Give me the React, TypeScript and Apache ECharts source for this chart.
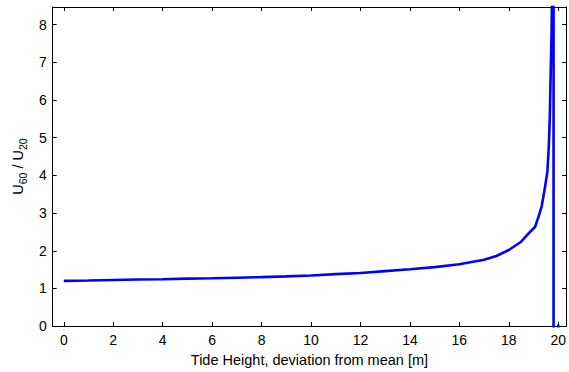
import React, { useEffect, useRef } from "react";
import * as echarts from "echarts";

// Tide height deviation from mean [m]
const tideHeights: number[] = [
  0, 1, 2, 3, 4, 5, 6, 7, 8, 9, 10, 11, 12, 13, 14, 15, 16, 17, 17.5, 18,
  18.5, 18.8, 19.06, 19.2, 19.33, 19.46, 19.56, 19.62, 19.66, 19.7, 19.73,
  19.76, 19.81, 19.81, 20,
];
// Ratio U60 / U20
const ratios: number[] = [
  1.2, 1.21, 1.225, 1.235, 1.245, 1.26, 1.27, 1.285, 1.3, 1.32, 1.345, 1.38,
  1.41, 1.46, 1.51, 1.565, 1.64, 1.76, 1.86, 2.02, 2.24, 2.46, 2.63, 2.9,
  3.18, 3.67, 4.1, 4.8, 5.6, 6.9, 7.8, 9.5, 60, -60, 0.04,
];
const xTicks: number[] = [0, 2, 4, 6, 8, 10, 12, 14, 16, 18, 20];
const yTicks: number[] = [0, 1, 2, 3, 4, 5, 6, 7, 8];

const X_MIN = -0.45;
const X_MAX = 20.32;
const Y_MIN = 0;
const Y_MAX = 8.47;

const FONT = "Arial, 'Liberation Sans', Helvetica, sans-serif";

export default function App() {
  const ref = useRef<HTMLDivElement>(null);

  useEffect(() => {
    if (!ref.current) return;
    const chart = echarts.init(ref.current, undefined, { renderer: "svg" });
    const points = tideHeights.map((x, i) => [x, ratios[i]]);

    const axisLine = { show: true, onZero: false, lineStyle: { color: "#000", width: 1 } };
    const tick = (vals: number[]) => ({
      show: true,
      inside: true,
      length: 4,
      lineStyle: { color: "#000", width: 1 },
      customValues: vals,
    });

    chart.setOption({
      animation: false,
      backgroundColor: "#fff",
      textStyle: { fontFamily: FONT },
      grid: { left: 50, right: 2, top: 7, bottom: 43, containLabel: false },
      xAxis: [
        {
          type: "value",
          min: X_MIN,
          max: X_MAX,
          position: "bottom",
          axisLine,
          axisTick: tick(xTicks),
          axisLabel: {
            show: true,
            customValues: xTicks,
            color: "#000",
            fontSize: 14,
            fontFamily: FONT,
            margin: 7,
          },
          splitLine: { show: false },
          name: "Tide Height, deviation from mean [m]",
          nameLocation: "middle",
          nameGap: 25,
          nameTextStyle: { color: "#000", fontSize: 14.5, fontFamily: FONT },
        },
        {
          type: "value",
          min: X_MIN,
          max: X_MAX,
          position: "top",
          axisLine,
          axisTick: tick(xTicks),
          axisLabel: { show: false },
          splitLine: { show: false },
        },
      ],
      yAxis: [
        {
          type: "value",
          min: Y_MIN,
          max: Y_MAX,
          position: "left",
          axisLine,
          axisTick: tick(yTicks),
          axisLabel: {
            show: true,
            customValues: yTicks,
            color: "#000",
            fontSize: 14,
            fontFamily: FONT,
            margin: 6,
          },
          splitLine: { show: false },
          name: "{n|U}{s|60}{n| / U}{s|20}",
          nameLocation: "middle",
          nameRotate: 90,
          nameGap: 24,
          nameTextStyle: {
            color: "#000",
            fontFamily: FONT,
            rich: {
              n: { fontSize: 14.5, color: "#000", fontFamily: FONT, lineHeight: 20, verticalAlign: "middle" },
              s: { fontSize: 10.5, color: "#000", fontFamily: FONT, lineHeight: 20, verticalAlign: "bottom", padding: [9, 0, 0, 0] },
            },
          },
        },
        {
          type: "value",
          min: Y_MIN,
          max: Y_MAX,
          position: "right",
          axisLine,
          axisTick: tick(yTicks),
          axisLabel: { show: false },
          splitLine: { show: false },
        },
      ],
      series: [
        {
          type: "line",
          data: points,
          xAxisIndex: 0,
          yAxisIndex: 0,
          showSymbol: false,
          symbol: "none",
          clip: true,
          lineStyle: { color: "#0000ff", width: 2.6 },
        },
      ],
    });

    return () => chart.dispose();
  }, []);

  return (
    <div
      ref={ref}
      style={{ position: "fixed", left: 0, top: 0, width: 569, height: 372 }}
    />
  );
}
